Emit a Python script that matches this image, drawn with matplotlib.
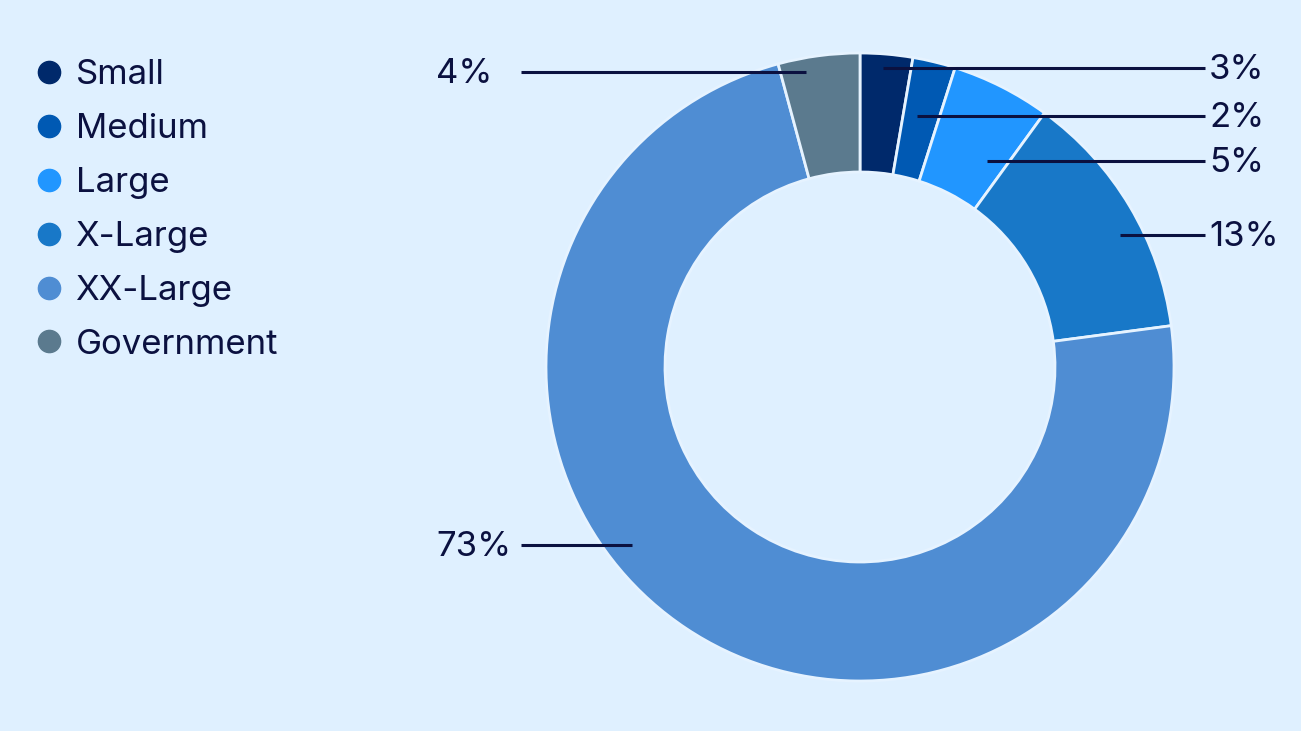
import numpy as np
import matplotlib
matplotlib.use("Agg")
from matplotlib import pyplot as plt
from matplotlib.lines import Line2D

# share of total by segment
segments = ["Small", "Medium", "Large", "X-Large", "XX-Large", "Government"]
shares = [2.7, 2.2, 5.1, 12.9, 72.9, 4.2]
pct_labels = ["3%", "2%", "5%", "13%", "73%", "4%"]
colors = ["#00296b", "#0059b3", "#2196ff", "#1878c8", "#4f8dd3", "#5b7a8e"]

bg = "#dff0ff"
ink = "#0b1140"

plt.rcParams['font.family'] = ['Inter', 'DejaVu Sans']

W, H = 1301, 731
fig = plt.figure(figsize=(W / 100, H / 100), dpi=100, facecolor=bg)
ax = fig.add_axes([0, 0, 1, 1])
ax.set_facecolor(bg)

cx, cy, R = 860, H - 367, 314
ax.pie(shares, colors=colors, startangle=90, counterclock=False,
       center=(cx, cy), radius=R, frame=True,
       wedgeprops=dict(width=119, edgecolor="#e6f3ff", linewidth=2))
ax.set_xlim(0, W)
ax.set_ylim(0, H)
ax.set_aspect('equal')
ax.axis('off')

# label leaders: horizontal lines from inside the slice out to the label
label_y = [68, 116, 161, 235, 545, 72]          # px from top
anchor_r = [0.955, 0.82, 0.77, 0.93, 0.92, 0.955]
right_side = [True, True, True, True, False, False]
for lab, ly, ar, rs in zip(pct_labels, label_y, anchor_r, right_side):
    y = H - ly
    dy = y - cy
    dx = np.sqrt(max((ar * R) ** 2 - dy ** 2, 0))
    if rs:
        x0 = cx + dx
        ax.plot([x0, 1205], [y, y], color=ink, lw=2.2, solid_capstyle='butt')
        ax.text(1209, y - 2, lab, fontsize=25, color=ink, va='center', ha='left')
    else:
        x0 = cx - dx
        ax.plot([521, x0], [y, y], color=ink, lw=2.2, solid_capstyle='butt')
        ax.text(436, y - 2, lab, fontsize=25, color=ink, va='center', ha='left')

handles = [Line2D([], [], ls='none', marker='o', markersize=16, color=c) for c in colors]
leg = fig.legend(handles, segments, loc='upper left', bbox_to_anchor=(0.018, 0.938),
                 frameon=False, fontsize=25, labelcolor=ink, handlelength=0.7,
                 handletextpad=0.4, labelspacing=0.63, borderaxespad=0)

fig.savefig("out.png", dpi=100, facecolor=bg)
